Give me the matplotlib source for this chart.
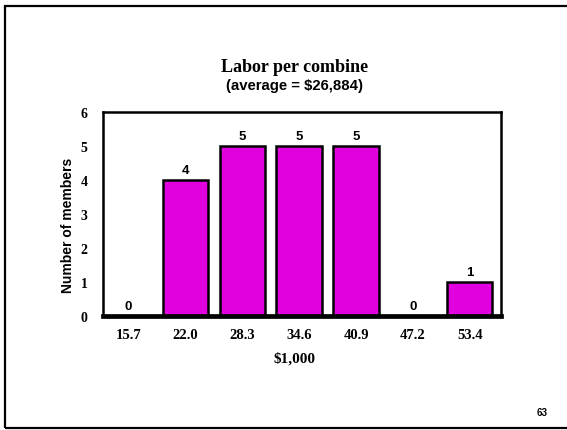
import matplotlib
matplotlib.use("Agg")
import matplotlib.pyplot as plt
from matplotlib.patches import Rectangle

# Histogram of labor cost per combine
bins = ["15.7", "22.0", "28.3", "34.6", "40.9", "47.2", "53.4"]
members = [0, 4, 5, 5, 5, 0, 1]
y_ticks = [0, 1, 2, 3, 4, 5, 6]

title = "Labor per combine"
subtitle = "(average = $26,884)"
x_label = "$1,000"
y_label = "Number of members"
page_number = "63"

W, H = 567, 431
fig = plt.figure(figsize=(W / 100, H / 100), dpi=100)
fig.patch.set_facecolor("white")

# slide frame (open on the right side)
frame = Rectangle((5 / W, 1 - 429 / H), 1.2, (429 - 6.5) / H,
                  transform=fig.transFigure, fill=False,
                  edgecolor="black", linewidth=1.6, clip_on=False)
fig.patches.append(frame)

ax = fig.add_axes([103 / W, 1 - 317 / H, 398 / W, 204 / H])
x = list(range(len(bins)))
ax.bar(x, members, width=0.8, color="#E100DE", edgecolor="black",
       linewidth=1.8, zorder=2)

ax.set_xlim(-0.45, 6.55)
ax.set_ylim(0, 6)
ax.set_xticks(x)
ax.set_xticklabels(bins)
ax.set_yticks(y_ticks)
ax.tick_params(length=0)
ax.tick_params(axis="x", pad=9)
ax.tick_params(axis="y", pad=11)
for lbl in ax.get_xticklabels():
    lbl.set_fontfamily("Liberation Serif")
    lbl.set_fontweight("bold")
    lbl.set_fontsize(10.5)
for lbl in ax.get_yticklabels():
    lbl.set_fontfamily("Liberation Serif")
    lbl.set_fontweight("bold")
    lbl.set_fontsize(10)

for side in ["left", "right", "top"]:
    ax.spines[side].set_linewidth(1.8)
ax.spines["bottom"].set_linewidth(3.4)

for xi, v in zip(x, members):
    ax.annotate(str(v), (xi, v), xytext=(0, 3), textcoords="offset points",
                ha="center", va="bottom", fontsize=9.5,
                fontfamily="Liberation Sans", fontweight="bold")

fig.text(294.5 / W, 1 - 67 / H, title, ha="center", va="center",
         fontsize=13, fontfamily="Liberation Serif", fontweight="bold")
fig.text(294 / W, 1 - 86 / H, subtitle, ha="center", va="center",
         fontsize=10.7, fontfamily="Liberation Sans", fontweight="bold")
fig.text(294 / W, 1 - 359 / H, x_label, ha="center", va="center",
         fontsize=11, fontfamily="Liberation Serif", fontweight="bold")
fig.text(68 / W, 1 - 225.5 / H, y_label, ha="center", va="center",
         rotation=90, fontsize=10, fontfamily="Liberation Sans",
         fontweight="bold")
fig.text(542 / W, 1 - 413 / H, page_number, ha="center", va="center",
         fontsize=7, fontfamily="Liberation Sans", fontweight="bold")

fig.savefig("out.png", dpi=100, facecolor="white")
